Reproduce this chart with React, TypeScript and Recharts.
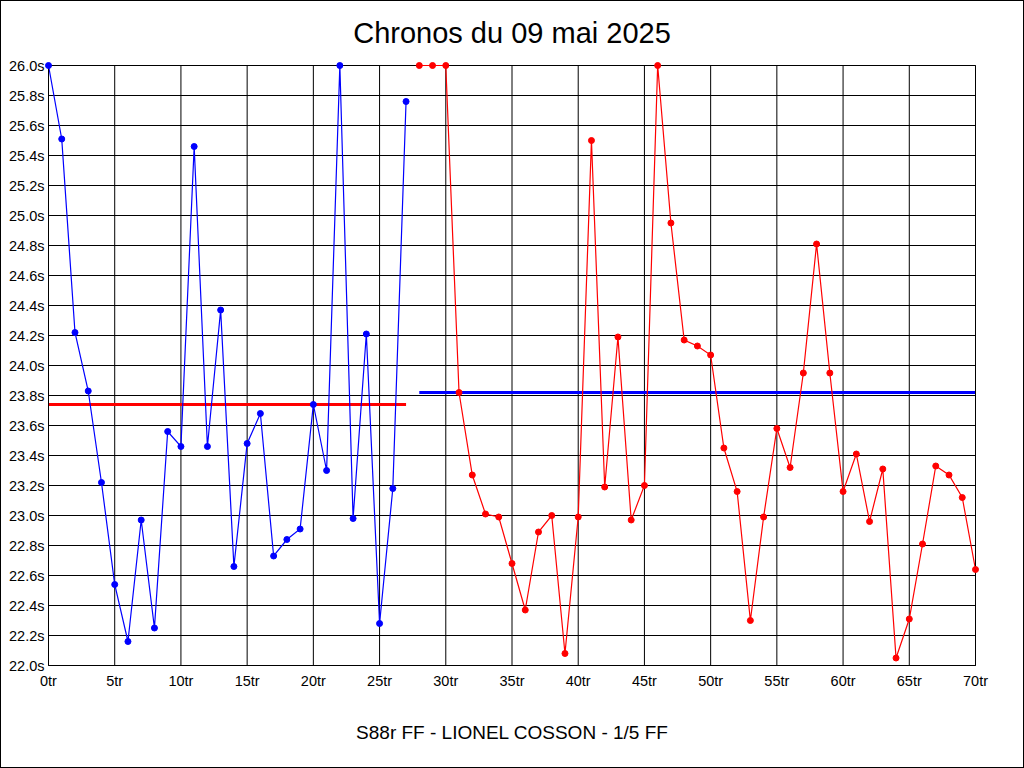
import React from 'react';
import {
  LineChart,
  Line,
  XAxis,
  YAxis,
  CartesianGrid,
  ReferenceLine,
} from 'recharts';

// lap times in seconds
const firstLapStart = 0;
const firstTimes = [
  26.0, 25.51, 24.22, 23.83, 23.22, 22.54, 22.16, 22.97, 22.25, 23.56,
  23.46, 25.46, 23.46, 24.37, 22.66, 23.48, 23.68, 22.73, 22.84, 22.91,
  23.74, 23.3, 26.0, 22.98, 24.21, 22.28, 23.18, 25.76,
];

const secondLapStart = 28;
const secondTimes = [
  26.0, 26.0, 26.0, 23.82, 23.27, 23.01, 22.99, 22.68, 22.37, 22.89,
  23.0, 22.08, 22.99, 25.5, 23.19, 24.19, 22.97, 23.2, 26.0, 24.95,
  24.17, 24.13, 24.07, 23.45, 23.16, 22.3, 22.99, 23.58, 23.32, 23.95,
  24.81, 23.95, 23.16, 23.41, 22.96, 23.31, 22.05, 22.31, 22.81, 23.33,
  23.27, 23.12, 22.64,
];

// mean lines
const firstMean = 23.74;
const secondMean = 23.82;

const xTicks = [0, 5, 10, 15, 20, 25, 30, 35, 40, 45, 50, 55, 60, 65, 70];
const yTicks = [
  22.0, 22.2, 22.4, 22.6, 22.8, 23.0, 23.2, 23.4, 23.6, 23.8, 24.0,
  24.2, 24.4, 24.6, 24.8, 25.0, 25.2, 25.4, 25.6, 25.8, 26.0,
];

const title = 'Chronos du 09 mai 2025';
const subtitle = 'S88r FF - LIONEL COSSON - 1/5 FF';

const firstData = firstTimes.map((t, i) => ({ lap: firstLapStart + i, t }));
const secondData = secondTimes.map((t, i) => ({ lap: secondLapStart + i, t }));
const lastFirst = firstLapStart + firstTimes.length - 1;
const lastSecond = secondLapStart + secondTimes.length - 1;

const FONT = '"Liberation Sans", Arial, sans-serif';
const BLUE = '#0000ff';
const RED = '#ff0000';

const tickStyle = { fill: '#000', fontSize: 14.5, fontFamily: FONT };

export default function App() {
  return (
    <div
      style={{
        position: 'fixed',
        left: 0,
        top: 0,
        width: 1024,
        height: 768,
        background: '#fff',
        fontFamily: FONT,
      }}
    >
      <div
        style={{
          position: 'absolute',
          left: 0,
          top: 17,
          width: 1024,
          textAlign: 'center',
          fontSize: 29,
          color: '#000',
        }}
      >
        {title}
      </div>
      <div style={{ position: 'absolute', left: 0, top: 0 }}>
        <LineChart
          width={1024}
          height={768}
          margin={{ top: 65.5, right: 0.5, bottom: 82.5, left: 0.5 }}
        >
          <CartesianGrid yAxisId="left" stroke="#000" strokeWidth={1} />
          <XAxis
            type="number"
            dataKey="lap"
            domain={[0, 70]}
            ticks={xTicks}
            interval={0}
            tickFormatter={(v) => `${v}tr`}
            tick={tickStyle}
            tickLine={false}
            tickSize={0}
            tickMargin={10}
            height={20}
            stroke="#000"
            allowDuplicatedCategory={false}
          />
          <YAxis
            yAxisId="left"
            type="number"
            domain={[22, 26]}
            ticks={yTicks}
            interval={0}
            tickFormatter={(v) => `${v.toFixed(1)}s`}
            tick={tickStyle}
            tickLine={false}
            tickSize={0}
            tickMargin={4}
            width={48}
            stroke="#000"
          />
          <YAxis
            yAxisId="right"
            orientation="right"
            type="number"
            domain={[22, 26]}
            ticks={yTicks}
            interval={0}
            tickFormatter={(v) => `${v.toFixed(1)}s`}
            tick={tickStyle}
            tickLine={false}
            tickSize={0}
            tickMargin={4}
            width={48}
            stroke="#000"
          />
          <ReferenceLine
            yAxisId="left"
            segment={[
              { x: firstLapStart, y: firstMean },
              { x: lastFirst, y: firstMean },
            ]}
            stroke={RED}
            strokeWidth={3}
          />
          <ReferenceLine
            yAxisId="left"
            segment={[
              { x: secondLapStart, y: secondMean },
              { x: lastSecond, y: secondMean },
            ]}
            stroke={BLUE}
            strokeWidth={3}
          />
          <Line
            yAxisId="left"
            data={firstData}
            dataKey="t"
            type="linear"
            stroke={BLUE}
            strokeWidth={1.2}
            dot={{ r: 3, fill: BLUE, stroke: BLUE, strokeWidth: 1 }}
            activeDot={false}
            isAnimationActive={false}
          />
          <Line
            yAxisId="left"
            data={secondData}
            dataKey="t"
            type="linear"
            stroke={RED}
            strokeWidth={1.2}
            dot={{ r: 3, fill: RED, stroke: RED, strokeWidth: 1 }}
            activeDot={false}
            isAnimationActive={false}
          />
        </LineChart>
      </div>
      <div
        style={{
          position: 'absolute',
          left: 0,
          top: 722,
          width: 1024,
          textAlign: 'center',
          fontSize: 19,
          color: '#000',
        }}
      >
        {subtitle}
      </div>
      <div
        style={{
          position: 'absolute',
          left: 0,
          top: 0,
          width: 1024,
          height: 768,
          boxSizing: 'border-box',
          border: '1px solid #000',
          pointerEvents: 'none',
        }}
      />
    </div>
  );
}
